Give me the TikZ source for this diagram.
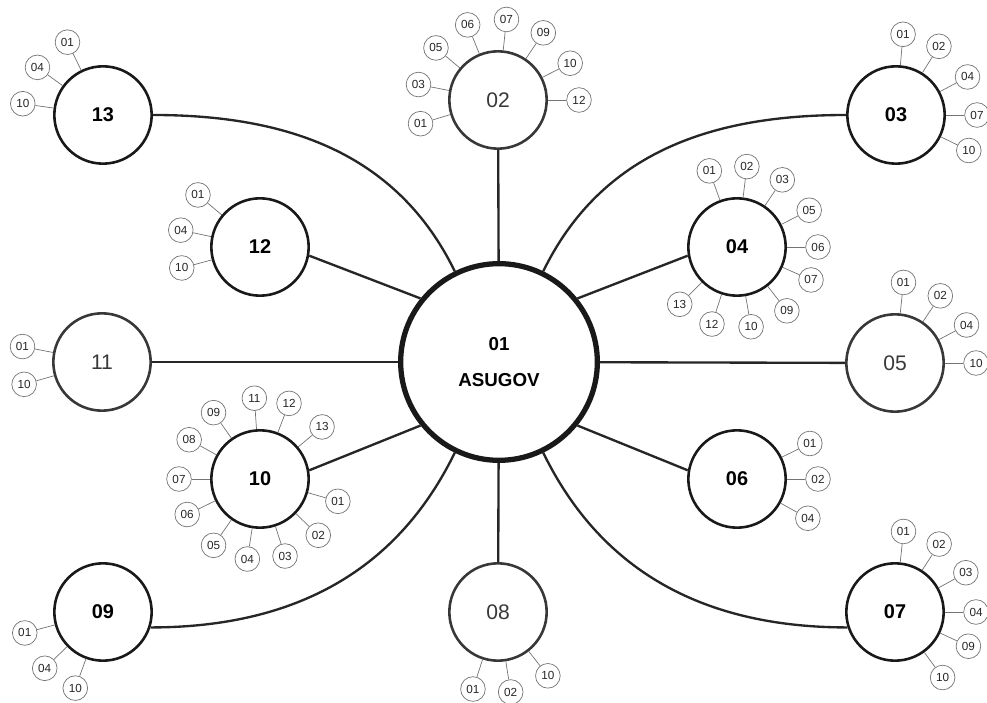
\documentclass[tikz,border=0pt]{standalone}
\usepackage{fontspec}
\setmainfont{Liberation Sans}
\usepackage{tikz}

\tikzset{
	hub/.style={circle,draw=black!90,line width=4.5pt,minimum size=5.9cm,inner sep=0pt,
		align=center,font=\fontsize{16}{31}\selectfont\bfseries},
	sat/.style={circle,draw=black!90,line width=2.2pt,minimum size=2.92cm,inner sep=0pt,
		font=\fontsize{17}{20}\selectfont\bfseries},
	satlt/.style={sat,draw=black!78,text=black!78,font=\fontsize{18}{20}\selectfont},
	leaf/.style={circle,draw=black!55,line width=0.6pt,minimum size=0.74cm,inner sep=0pt,
		font=\fontsize{10}{11}\selectfont,text=black!85},
	link/.style={draw=black!85,line width=2pt},
	twig/.style={draw=black!55,line width=0.6pt}
}

\begin{document}
\begin{tikzpicture}[x=0.03cm,y=0.03cm]
		\useasboundingbox (0,0) rectangle (987,702);
		\node[hub] (A) at (499,340) {01\\ASUGOV};
		%
		\node[sat] (G13) at (103,587) {13};
		\node[satlt] (G02) at (498,602) {02};
		\node[sat] (G03) at (896,587) {03};
		\node[sat] (G12) at (260,455) {12};
		\node[sat] (G04) at (737,455) {04};
		\node[satlt] (G11) at (102,340) {11};
		\node[satlt] (G05) at (895,339) {05};
		\node[sat] (G10) at (260,223) {10};
		\node[sat] (G06) at (737,223) {06};
		\node[sat] (G09) at (103,90) {09};
		\node[satlt] (G08) at (498,90) {08};
		\node[sat] (G07) at (895,90) {07};
		%
		\path[link]
			(G13.east) edge[out=0,in=116] (A.116)
			(G03.west) edge[out=180,in=64] (A.64)
			(G09.-18) edge[out=0,in=244] (A.244)
			(G07.198) edge[out=180,in=296] (A.296)
			(G12.-10) edge (A.141)
			(G04.190) edge (A.39)
			(G10.10) edge (A.219)
			(G06.170) edge (A.321)
			(G02) edge (A)
			(G08) edge (A)
			(G11) edge (A)
			(G05) edge (A);
		%
		\foreach \g/\list in {
			G13/{01/116,04/144,10/172},
			G02/{01/197,03/169,05/140,06/112,07/84,09/56,10/27,12/0},
			G03/{01/85,02/58,04/28,07/0,10/-26},
			G12/{01/140,04/168,10/195},
			G04/{01/110,02/83,03/56,05/27,06/0,07/-24,09/-52,10/-80,12/-108,13/-135},
			G11/{01/169,10/196},
			G05/{01/84,02/56,04/28,10/0},
			G10/{11/94,12/69,13/40,01/-16,02/-44,03/-72,04/-99,05/-125,06/-154,07/180,08/151,09/125},
			G06/{01/26,02/0,04/-29},
			G09/{01/195,04/224,10/250},
			G08/{01/252,02/279,10/308},
			G07/{01/84,02/57,03/29,04/0,09/-25,10/-54}}
		{
			\foreach \lab/\ang in \list {
				\path (\g) ++(\ang:81) node[leaf] (\g-\lab) {\lab};
				\draw[twig] (\g) -- (\g-\lab);
			}
		}
	\end{tikzpicture}
\end{document}
